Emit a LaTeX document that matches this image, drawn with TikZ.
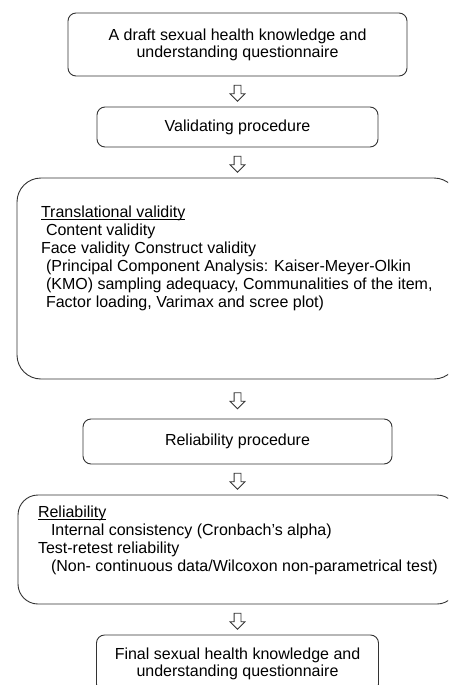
\documentclass[tikz,border=0pt]{standalone}
\usepackage{fontspec}
\setmainfont{Liberation Sans}
\usetikzlibrary{positioning, shapes.arrows}

% underlined heading, drawn with a plain rule
\newcommand{\ulhead}[1]{\leavevmode\setbox0=\hbox{#1}\rlap{\rule[-2.4pt]{\wd0}{0.8pt}}\box0}

\tikzset{
  stepbox/.style={draw=black!80, line width=0.9pt, rounded corners=8pt, align=center, inner sep=0pt,
    outer sep=0pt, font=\fontsize{16pt}{17pt}\selectfont},
  bigbox/.style={draw=black!80, line width=0.9pt, inner sep=0pt, outer sep=0pt,
    font=\fontsize{16pt}{18pt}\selectfont},
  downarrow/.style={single arrow, draw=black!80, line width=0.8pt, shape border rotate=270,
    minimum height=16pt, minimum width=14pt, inner sep=3pt,
    single arrow head extend=4pt, single arrow head indent=0pt}
}

\begin{document}
\begin{tikzpicture}[x=1pt, y=-1pt, node distance=31pt]
    \clip (0,0) rectangle (448,685);

    % Steps
    \node[stepbox, minimum width=339pt, minimum height=63pt, anchor=north] (draft) at (237.5,13)
        {A draft sexual health knowledge and\\understanding questionnaire};

    \node[stepbox, minimum width=281pt, minimum height=40pt, below=of draft] (validating) {Validating procedure};

    \node[bigbox, rounded corners=24pt, minimum width=441pt, below=of validating] (validity)
        {\begin{minipage}[t][201pt][t]{441pt}
          \leftskip=24pt
          \vspace*{28pt}
          \ulhead{Translational validity}\par
          \hspace*{5pt}Content validity\par
          Face validity Construct validity\par
          \hspace*{5pt}(Principal Component Analysis: Kaiser-Meyer-Olkin\par
          \hspace*{5pt}(KMO) sampling adequacy, Communalities of the item,\par
          \hspace*{5pt}Factor loading, Varimax and scree plot)\par
        \end{minipage}};

    \node[stepbox, minimum width=309pt, minimum height=45pt, below=40pt of validity] (reliabproc) {Reliability procedure};

    \node[bigbox, rounded corners=20pt, minimum width=439pt, below=of reliabproc] (reliability)
        {\begin{minipage}[t][109pt][t]{439pt}
          \leftskip=20pt
          \vspace*{11pt}
          \ulhead{Reliability}\par
          \hspace*{13pt}Internal consistency (Cronbach’s alpha)\par
          Test-retest reliability\par
          \hspace*{13pt}(Non- continuous data/Wilcoxon non-parametrical test)\par
        \end{minipage}};

    \node[stepbox, minimum width=282pt, minimum height=57pt, below=of reliability] (final)
        {Final sexual health knowledge and\\understanding questionnaire};

    % Arrows
    \path (draft.south) -- node[downarrow] (a1) {} (validating.north);
    \path (validating.south) -- node[downarrow] (a2) {} (validity.north);
    \path (validity.south) -- node[downarrow] (a3) {} (reliabproc.north);
    \path (reliabproc.south) -- node[downarrow] (a4) {} (reliability.north);
    \path (reliability.south) -- node[downarrow] (a5) {} (final.north);

\end{tikzpicture}
\end{document}
